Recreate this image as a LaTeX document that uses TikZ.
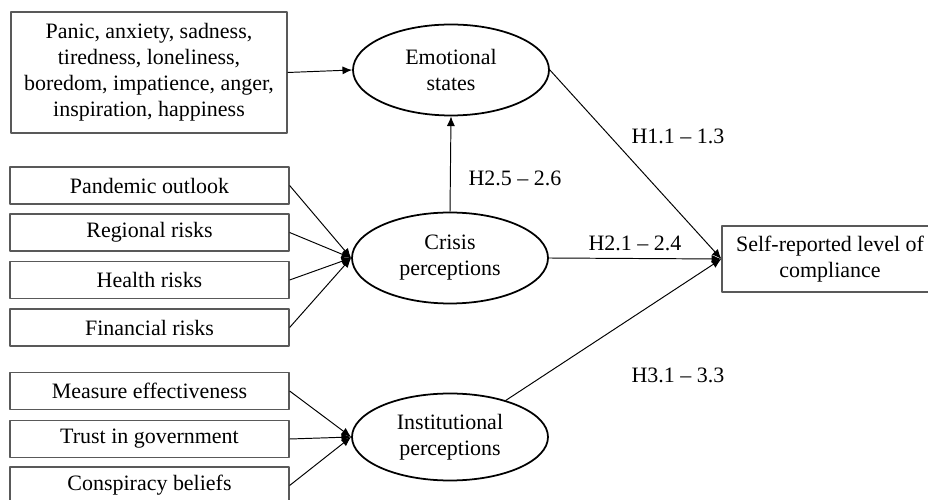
\documentclass[tikz,border=0pt]{standalone}
\usepackage{fontspec}
\setmainfont{Liberation Serif}
\usetikzlibrary{arrows.meta,shapes.geometric}
\begin{document}
\begin{tikzpicture}[line join=round,
    font=\fontsize{12.5}{14.8}\selectfont,
    item/.style={draw=black!65,line width=.7pt,rectangle,align=center,inner sep=2pt},
    factor/.style={item,minimum width=5.58cm,minimum height=.74cm},
    latent/.style={draw,line width=1pt,ellipse,align=center,minimum width=3.92cm,minimum height=1.82cm,inner sep=0pt},
    link/.style={line width=.55pt,-{Latex[length=5.5pt,width=4.6pt]}},
    hyp/.style={inner sep=1pt}]
  \clip (0,0) rectangle (18.56,-10);
  \node[item,minimum width=5.52cm,minimum height=2.42cm] (feel) at (2.98,-1.45)
    {Panic, anxiety, sadness,\\tiredness, loneliness,\\boredom, impatience, anger,\\inspiration, happiness};
  \node[factor] (outlook) at (2.99,-3.71) {Pandemic outlook};
  \node[factor] (region) at (2.99,-4.65) {Regional risks};
  \node[factor] (health) at (2.99,-5.60) {Health risks};
  \node[factor] (money) at (2.99,-6.55) {Financial risks};
  \node[factor] (effect) at (2.99,-7.82) {Measure effectiveness};
  \node[factor] (trust) at (2.99,-8.78) {Trust in government};
  \node[factor] (plot) at (2.99,-9.71) {Conspiracy beliefs};
  \node[latent] (emo) at (9.02,-1.40) {Emotional\\states};
  \node[latent] (crisis) at (9.0,-5.16) {Crisis\\perceptions};
  \node[latent,minimum height=1.74cm] (inst) at (9.0,-8.74) {Institutional\\perceptions};
  \node[item,minimum width=4.32cm,minimum height=1.32cm] (comply) at (16.6,-5.18)
    {Self-reported level of\\compliance};
  \draw[link] (feel.east) -- (emo.west);
  \foreach \f in {outlook,region,health,money}
    \draw[link] (\f.east) -- (crisis.west);
  \foreach \f in {effect,trust,plot}
    \draw[link] (\f.east) -- (inst.west);
  \draw[link] (crisis.north) -- (emo.south);
  \draw[link] (emo.east) -- (comply.west);
  \draw[link] (crisis.east) -- (comply.west);
  \draw[link] (inst) -- (comply.west);
  \node[hyp] (h25) at (10.3,-3.56) {H2.5 -- 2.6};
  \node[hyp] (h11) at (13.56,-2.72) {H1.1 -- 1.3};
  \node[hyp] (h21) at (12.7,-4.86) {H2.1 -- 2.4};
  \node[hyp] (h31) at (13.56,-7.50) {H3.1 -- 3.3};
\end{tikzpicture}
\end{document}
